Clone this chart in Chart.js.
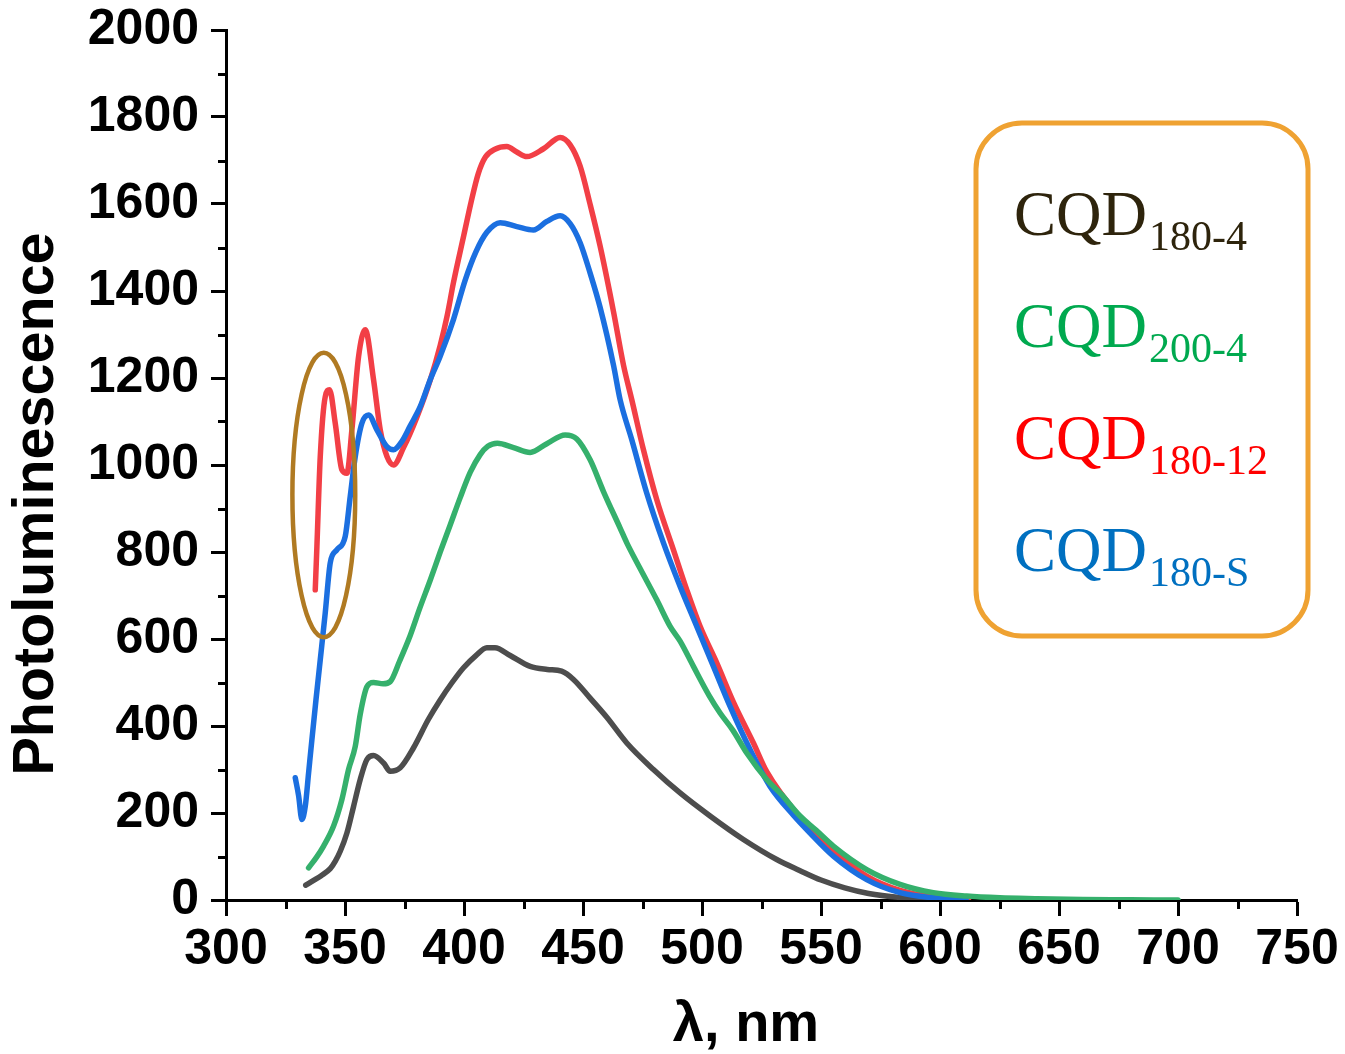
<!DOCTYPE html>
<html>
<head>
<meta charset="utf-8">
<script src="https://cdn.jsdelivr.net/npm/chart.js@4.4.1/dist/chart.umd.min.js"></script>
<style>
  html, body { margin: 0; padding: 0; background: #ffffff; }
  #wrap { position: relative; width: 1345px; height: 1054px; }
  canvas { display: block; }
</style>
</head>
<body>
<div id="wrap"><canvas id="pl" width="1345" height="1054"></canvas></div>
<script>
// Photoluminescence spectra of carbon quantum dots (wavelength in nm, intensity in a.u.)
const seriesNames = ['180-4', '200-4', '180-12', '180-S'];

const wl180_4 = [333.5, 336.8, 340, 343.8, 346, 348, 350.8, 353.6, 356.4, 359.2, 362, 366.2, 369, 373.2, 378.8, 385, 390, 395, 399.8, 405, 409.6, 413, 419.4, 427.8, 435, 441, 446, 453, 460, 468.4, 479.6, 490.8, 503.4, 517.4, 531.4, 541, 550, 560, 570, 583, 597, 606];
const pl180_4 = [34, 45, 56, 72, 90, 112, 154, 215, 277, 323, 332, 315, 296, 304, 350, 415, 460, 500, 534, 562, 580, 580, 562, 537, 530, 526, 507, 464, 420, 361, 300, 246, 193, 139, 93, 68, 46, 28, 15, 6, 1.5, 0];

const wl200_4 = [334.7, 338, 341, 345.2, 348.7, 351.5, 354.3, 356.4, 359.2, 362, 366, 369, 373, 377.4, 381.5, 385.8, 390, 394.2, 398.4, 402.6, 406.8, 410, 414, 420.8, 427.8, 434.8, 442.5, 447.4, 453, 458.6, 465.6, 468.4, 474, 481, 486.6, 490.8, 496.4, 503, 507.6, 513, 518.8, 527.2, 533, 541.2, 548, 555.2, 569.2, 583.2, 597.2, 611.2, 625.2, 640, 660, 680, 700];
const pl200_4 = [74, 98, 124, 170, 231, 300, 353, 427, 490, 500, 497, 502, 550, 608, 672, 735, 800, 862, 925, 983, 1024, 1043, 1050, 1040, 1029, 1049, 1069, 1060, 1012, 939, 855, 821, 762, 690, 629, 595, 537, 470, 430, 390, 338, 277, 245, 193, 160, 124, 70, 36, 17, 9, 5, 3, 1, 0.5, 0];

const wl180_12 = [337.5, 338.2, 339.6, 341.7, 343.5, 345.9, 348.7, 350.8, 352.9, 355.7, 358.5, 362, 364.8, 367.6, 370.4, 374.6, 380.2, 385.8, 390, 392.8, 395.6, 400, 403, 406, 409, 413, 418, 422, 426.4, 433.4, 440.4, 444.6, 448.8, 453, 457.2, 462.8, 467, 470.5, 475.4, 481, 488, 493.6, 499.2, 506.2, 513.2, 521.6, 527.2, 541.2, 555.2, 569.2, 583.2, 597.2, 612];
const pl180_12 = [713, 813, 1019, 1157, 1173, 1096, 989, 981, 1081, 1249, 1311, 1196, 1081, 1020, 1000, 1040, 1110, 1195, 1275, 1340, 1420, 1530, 1605, 1670, 1708, 1726, 1732, 1720, 1709, 1727, 1753, 1736, 1687, 1599, 1503, 1353, 1230, 1150, 1035, 920, 805, 713, 629, 545, 455, 361, 295, 190, 115, 55, 22, 7, 0];

const wl180_S = [329.1, 330.5, 331.9, 333.3, 334.7, 336.1, 337.8, 339.6, 341.7, 343.8, 346.6, 350.1, 352.2, 354.3, 357.1, 359.9, 363.4, 367.6, 370.4, 374, 377.4, 381.6, 385.8, 390, 395.6, 400.5, 405, 409.6, 415.2, 422.2, 429.2, 434.8, 440.4, 444.6, 448.8, 453, 457.2, 462.8, 465.6, 470.5, 476.8, 483.8, 490.8, 497.8, 504.8, 511.8, 520.2, 528.6, 538.4, 545.4, 555.2, 569.2, 583.2, 597.2, 611];
const pl180_S = [281, 240, 185, 215, 292, 369, 460, 552, 660, 775, 805, 836, 928, 1019, 1096, 1115, 1081, 1042, 1035, 1055, 1090, 1134, 1196, 1250, 1335, 1425, 1490, 1535, 1557, 1548, 1540, 1560, 1573, 1555, 1511, 1441, 1362, 1230, 1150, 1058, 935, 821, 721, 629, 537, 445, 346, 261, 195, 154, 101, 47, 17, 5, 0];

// Axis ranges and tick steps
const xRange = [300, 750];
const yRange = [0, 2000];
const xMajorStep = 50, xMinorStep = 25;
const yMajorStep = 200, yMinorStep = 100;

// Highlighted region around the short-wavelength peaks (wavelength, intensity)
const markCenter = [341.1, 931];
const markRadius = [13.2, 327];

const lineColors = ['#4d4d4d', '#35b06c', '#f23f46', '#1b6fe0'];
const legendColors = ['#2e240c', '#00a94f', '#ff0000', '#0070c0'];

function pts(xs, ys) { return xs.map((x, i) => ({ x: x, y: ys[i] })); }

const axisFont = { family: '"Liberation Sans", Arial, sans-serif', size: 50, weight: 'bold' };

const decorPlugin = {
  id: 'decor',
  afterDraw(chart) {
    const ctx = chart.ctx;
    const xs = chart.scales.x, ys = chart.scales.y;
    const ca = chart.chartArea;
    ctx.save();
    // minor ticks
    ctx.strokeStyle = '#000';
    ctx.lineWidth = 3;
    ctx.beginPath();
    for (let v = xRange[0] + xMinorStep; v < xRange[1]; v += xMajorStep) {
      const px = Math.round(xs.getPixelForValue(v)) + 0.5;
      ctx.moveTo(px, ca.bottom);
      ctx.lineTo(px, ca.bottom + 9);
    }
    for (let v = yRange[0] + yMinorStep; v < yRange[1]; v += yMajorStep) {
      const py = Math.round(ys.getPixelForValue(v)) + 0.5;
      ctx.moveTo(ca.left, py);
      ctx.lineTo(ca.left - 8, py);
    }
    ctx.stroke();

    // marked region
    ctx.strokeStyle = '#b07a22';
    ctx.lineWidth = 4.5;
    const cx = xs.getPixelForValue(markCenter[0]);
    const cy = ys.getPixelForValue(markCenter[1]);
    const rx = Math.abs(xs.getPixelForValue(markCenter[0] + markRadius[0]) - cx);
    const ry = Math.abs(ys.getPixelForValue(markCenter[1] + markRadius[1]) - cy);
    ctx.beginPath();
    ctx.ellipse(cx, cy, rx, ry, 0, 0, Math.PI * 2);
    ctx.stroke();

    // axis titles
    ctx.fillStyle = '#000';
    ctx.font = 'bold 56px "Liberation Sans", Arial, sans-serif';
    ctx.textAlign = 'center';
    ctx.textBaseline = 'middle';
    ctx.fillText('\u03bb, nm', 746, 1026);
    ctx.font = 'bold 57.5px "Liberation Sans", Arial, sans-serif';
    ctx.translate(37, 504);
    ctx.rotate(-Math.PI / 2);
    ctx.fillText('Photoluminescence', 0, 0);
    ctx.setTransform(1, 0, 0, 1, 0, 0);

    // legend box
    const bx = 976, by = 123, bw = 332, bh = 513, r = 46;
    ctx.strokeStyle = '#efa232';
    ctx.lineWidth = 5;
    ctx.beginPath();
    ctx.roundRect(bx, by, bw, bh, r);
    ctx.stroke();

    ctx.textAlign = 'left';
    ctx.textBaseline = 'alphabetic';
    const rowBase = [235, 347, 459, 571];
    seriesNames.forEach((name, i) => {
      ctx.fillStyle = legendColors[i];
      ctx.font = '63px "Liberation Serif", "Times New Roman", serif';
      ctx.fillText('CQD', 1014, rowBase[i]);
      const w = ctx.measureText('CQD').width;
      ctx.font = '42px "Liberation Serif", "Times New Roman", serif';
      ctx.fillText(name, 1014 + w + 2, rowBase[i] + 15);
    });
    ctx.restore();
  }
};

const datasets = [
  { label: 'CQD180-4', data: pts(wl180_4, pl180_4), borderColor: lineColors[0], order: 4 },
  { label: 'CQD200-4', data: pts(wl200_4, pl200_4), borderColor: lineColors[1], order: 1 },
  { label: 'CQD180-12', data: pts(wl180_12, pl180_12), borderColor: lineColors[2], order: 3 },
  { label: 'CQD180-S', data: pts(wl180_S, pl180_S), borderColor: lineColors[3], order: 2 }
].map(d => Object.assign(d, {
  borderWidth: 5.5,
  pointRadius: 0,
  fill: false,
  cubicInterpolationMode: 'monotone',
  borderCapStyle: 'round',
  borderJoinStyle: 'round'
}));

new Chart(document.getElementById('pl'), {
  type: 'line',
  data: { datasets: datasets },
  options: {
    responsive: false,
    animation: false,
    devicePixelRatio: 1,
    layout: { padding: { top: 30, right: 48, bottom: 0, left: 0 } },
    plugins: { legend: { display: false }, tooltip: { enabled: false } },
    scales: {
      x: {
        type: 'linear',
        min: xRange[0], max: xRange[1],
        ticks: { stepSize: xMajorStep, color: '#000', font: axisFont, padding: 4, maxRotation: 0,
                 callback: v => String(v) },
        grid: { drawOnChartArea: false, drawTicks: true, tickLength: 16, tickWidth: 3, tickColor: '#000' },
        border: { display: true, color: '#000', width: 3 },
        afterFit(scale) { scale.height = 154; scale.paddingLeft = 0; scale.paddingRight = 0; }
      },
      y: {
        type: 'linear',
        min: yRange[0], max: yRange[1],
        ticks: { stepSize: yMajorStep, color: '#000', font: axisFont, padding: 12,
                 callback: v => String(v) },
        grid: { drawOnChartArea: false, drawTicks: true, tickLength: 15, tickWidth: 3, tickColor: '#000' },
        border: { display: true, color: '#000', width: 3 },
        afterFit(scale) { scale.width = 226; scale.paddingTop = 0; scale.paddingBottom = 0; }
      }
    }
  },
  plugins: [decorPlugin]
});
</script>
</body>
</html>
